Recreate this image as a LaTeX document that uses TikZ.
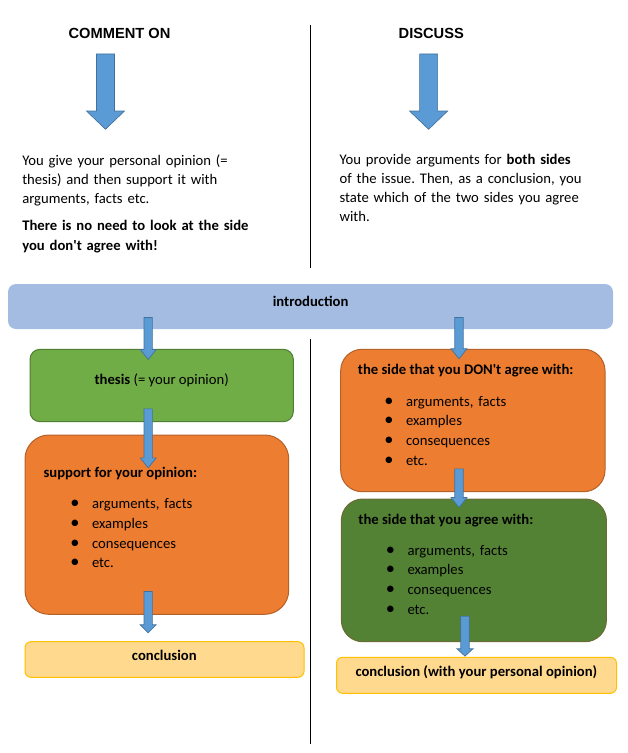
\documentclass[tikz,border=0pt]{standalone}
\usepackage{fontspec}
\setmainfont{Carlito}
\newfontfamily\headfont{Liberation Sans}
\usetikzlibrary{calc,fit}
\frenchspacing

\definecolor{introblue}{HTML}{A4BCE2}
\definecolor{arrowblue}{HTML}{5B9BD5}
\definecolor{arrowedge}{HTML}{41719C}
\definecolor{thesisgreen}{HTML}{70AD47}
\definecolor{thesisedge}{HTML}{507E32}
\definecolor{sideorange}{HTML}{ED7D31}
\definecolor{orangeedge}{HTML}{B4612A}
\definecolor{agreegreen}{HTML}{548235}
\definecolor{agreeedge}{HTML}{6B6B35}
\definecolor{conclfill}{HTML}{FFD98E}
\definecolor{concledge}{HTML}{FFC000}

\tikzset{
  roundbox/.style={rectangle, rounded corners=#1, inner sep=0pt, line width=0.75pt},
  divider/.style={line width=0.75pt},
  blockarrow/.style={fill=arrowblue, draw=arrowedge, line width=0.5pt},
  headtxt/.style={font=\headfont\fontsize{11pt}{13pt}\selectfont\bfseries, inner sep=0pt, anchor=base},
  plaintxt/.style={font=\fontsize{11pt}{14.4pt}\selectfont, inner sep=0pt},
  txt/.style={plaintxt, text width=190pt, align=left},
  listtxt/.style={font=\fontsize{11pt}{14.9pt}\selectfont, inner sep=0pt, text width=150pt, align=left}
}

% block arrow pointing down: from, to, half shaft, half head, head length
\newcommand{\downblock}[5]{%
  \draw[blockarrow] let \p1=#1, \p2=#2 in
    (\x1-#3,\y1) -- (\x1+#3,\y1) -- (\x1+#3,\y2+#5) -- (\x1+#4,\y2+#5)
    -- (\x1,\y2) -- (\x1-#4,\y2+#5) -- (\x1-#3,\y2+#5) -- cycle;}

% bullet of the lists
\newcommand{\itembul}{\makebox[16.3pt][l]{\scalebox{1.25}{\textbullet}}}

\begin{document}
\begin{tikzpicture}[x=0.75pt, y=-0.75pt]

  % Size of the sheet
  \useasboundingbox (0,0) rectangle (628,753);

  % Columns of the arrows
  \coordinate (bigl) at (105.5,0);
  \coordinate (bigr) at (428.6,0);
  \coordinate (lcol) at (148.2,0);
  \coordinate (rcol) at (459,0);
  \coordinate (rcolb) at (465,0);

  % Line between the two sides
  \coordinate (divtop) at (310,25);
  \coordinate (divmid) at (310,268);
  \coordinate (divlow) at (310,339.3);
  \coordinate (divbot) at (310,744.3);
  \draw[divider] (divtop) -- (divmid);
  \draw[divider] (divlow) -- (divbot);

  % Headings
  \node[headtxt] (comhead) at (119.5,38.3) {COMMENT ON};
  \node[headtxt] (dishead) at (431.3,38.3) {DISCUSS};

  % Texts under the headings
  \node[txt, anchor=base west] (comtext) at (22,165)
    {You give your personal opinion (=\\
     thesis) and then support it with\\
     arguments, facts etc.\\[6.2pt]
     \textbf{There is no need to look at the side}\\
     \textbf{you don\textquotesingle t agree with!}};
  \node[txt, anchor=base west] (distext) at (339.3,164.3)
    {You provide arguments for \textbf{both sides}\\
     of the issue. Then, as a conclusion, you\\
     state which of the two sides you agree\\
     with.};

  % Big arrows
  \downblock{([yshift=-11.75pt]comhead.base -| bigl)}{([yshift=26.8pt]comtext.base -| bigl)}{6.75pt}{14.25pt}{13.7pt}
  \downblock{([yshift=-11.75pt]dishead.base -| bigr)}{([yshift=26.25pt]distext.base -| bigr)}{6.75pt}{14.25pt}{13.7pt}

  % Boxes
  \node[roundbox=6pt, fill=introblue, fit={(8,284) (613,329)}] (intro) {};
  \node[roundbox=7.5pt, fill=thesisgreen, draw=thesisedge, fit={(30,349.3) (293.3,421.7)}] (thesis) {};
  \node[roundbox=18pt, fill=sideorange, draw=orangeedge, fit={(25,435) (288.7,614.3)}] (support) {};
  \node[roundbox=4.5pt, fill=conclfill, draw=concledge, fit={(25,641.7) (304,677.3)}] (concl) {};
  \node[roundbox=16pt, fill=sideorange, draw=orangeedge, fit={(340.7,349.3) (605,491.7)}] (dont) {};
  \node[roundbox=16pt, fill=agreegreen, draw=agreeedge, fit={(341.4,499) (606.4,641.7)}] (agree) {};
  \node[roundbox=4.5pt, fill=conclfill, draw=concledge, fit={(336.5,657.3) (616.5,693.3)}] (conclop) {};

  % Texts in the boxes
  \node[plaintxt, anchor=base] (introtxt) at (310.6,306) {\textbf{introduction}};
  \node[plaintxt, anchor=base] (thesistxt) at (161.7,384) {\textbf{thesis} (= your opinion)};
  \node[plaintxt, anchor=base west] (suphead) at (43.3,477.3) {\textbf{support for your opinion:}};
  \node[listtxt, anchor=base west] (suplist) at (70,508.3)
    {\itembul arguments, facts\\ \itembul examples\\ \itembul consequences\\ \itembul etc.};
  \node[plaintxt, anchor=base] (concltxt) at (164.3,660) {\textbf{conclusion}};

  \node[plaintxt, anchor=base west] (donthead) at (357.7,374.3) {\textbf{the side that you DON\textquotesingle t agree with:}};
  \node[listtxt, anchor=base west] (dontlist) at (384,406)
    {\itembul arguments, facts\\ \itembul examples\\ \itembul consequences\\ \itembul etc.};
  \node[plaintxt, anchor=base west] (agreehead) at (358.2,524.3) {\textbf{the side that you agree with:}};
  \node[listtxt, anchor=base west] (agreelist) at (385.5,555)
    {\itembul arguments, facts\\ \itembul examples\\ \itembul consequences\\ \itembul etc.};
  \node[plaintxt, anchor=base] (concloptxt) at (476.3,676.7) {\textbf{conclusion (with your personal opinion)}};

  % Small arrows between the boxes
  \downblock{([yshift=9pt]intro.south -| lcol)}{([yshift=-8pt]thesis.north -| lcol)}{3.15pt}{6pt}{7.5pt}
  \downblock{([yshift=10pt]thesis.south -| lcol)}{([yshift=-25pt]support.north -| lcol)}{3.15pt}{6pt}{7.5pt}
  \downblock{([yshift=17.5pt]support.south -| lcol)}{([yshift=6.3pt]concl.north -| lcol)}{3.15pt}{6pt}{6pt}
  \downblock{([yshift=9pt]intro.south -| rcol)}{([yshift=-7.5pt]dont.north -| rcol)}{3.15pt}{6pt}{7.5pt}
  \downblock{([yshift=17.5pt]dont.south -| rcol)}{([yshift=-6.75pt]agree.north -| rcol)}{3.15pt}{6pt}{7.5pt}
  \downblock{([yshift=19.5pt]agree.south -| rcolb)}{([yshift=0.5pt]conclop.north -| rcolb)}{3.15pt}{6pt}{5.5pt}

\end{tikzpicture}
\end{document}
